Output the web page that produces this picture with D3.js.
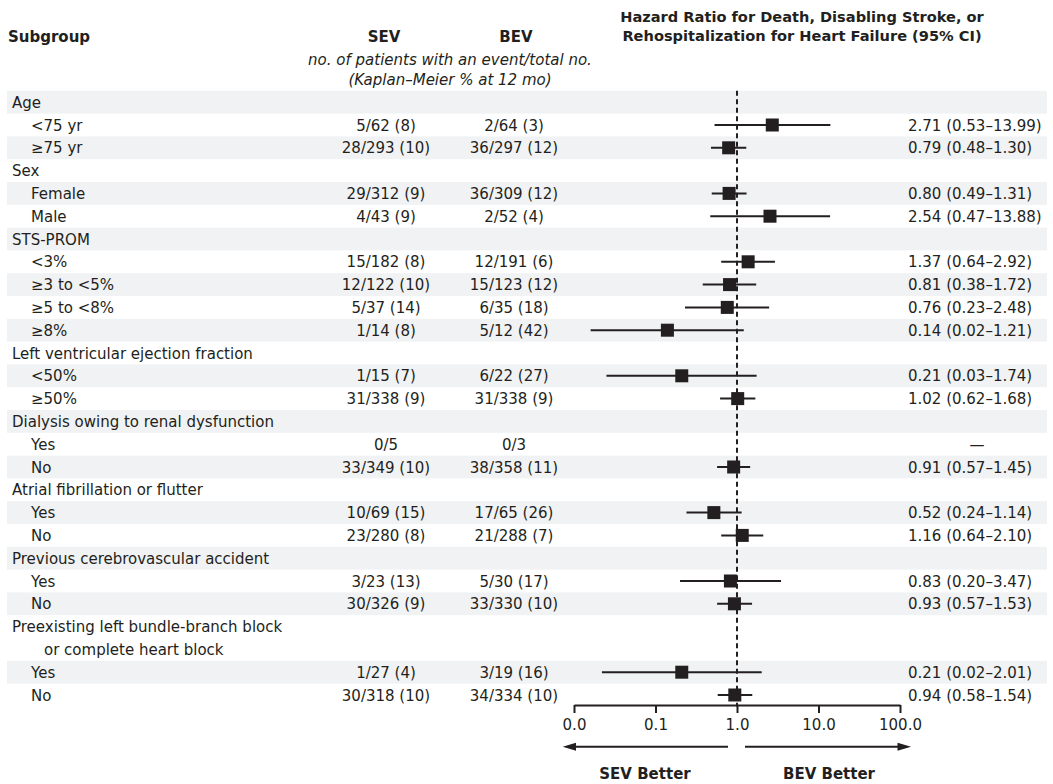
<!DOCTYPE html>
<html>
<head>
<meta charset="utf-8">
<script src="https://cdn.jsdelivr.net/npm/d3@7"></script>
<style>
  html, body { margin: 0; padding: 0; background: #ffffff; }
  svg { display: block; font-family: "DejaVu Sans", sans-serif; }
</style>
</head>
<body>
<svg id="chart" width="1053" height="784"></svg>
<script>
// ---------------- data ----------------
const labels = [
  "Age", "<75 yr", "≥75 yr",
  "Sex", "Female", "Male",
  "STS-PROM", "<3%", "≥3 to <5%", "≥5 to <8%", "≥8%",
  "Left ventricular ejection fraction", "<50%", "≥50%",
  "Dialysis owing to renal dysfunction", "Yes", "No",
  "Atrial fibrillation or flutter", "Yes", "No",
  "Previous cerebrovascular accident", "Yes", "No",
  "Preexisting left bundle-branch block|or complete heart block", "Yes", "No"
];
const levels = [0,1,1, 0,1,1, 0,1,1,1,1, 0,1,1, 0,1,1, 0,1,1, 0,1,1, 0,1,1];
const sevText = [
  "", "5/62 (8)", "28/293 (10)",
  "", "29/312 (9)", "4/43 (9)",
  "", "15/182 (8)", "12/122 (10)", "5/37 (14)", "1/14 (8)",
  "", "1/15 (7)", "31/338 (9)",
  "", "0/5", "33/349 (10)",
  "", "10/69 (15)", "23/280 (8)",
  "", "3/23 (13)", "30/326 (9)",
  "", "1/27 (4)", "30/318 (10)"
];
const bevText = [
  "", "2/64 (3)", "36/297 (12)",
  "", "36/309 (12)", "2/52 (4)",
  "", "12/191 (6)", "15/123 (12)", "6/35 (18)", "5/12 (42)",
  "", "6/22 (27)", "31/338 (9)",
  "", "0/3", "38/358 (11)",
  "", "17/65 (26)", "21/288 (7)",
  "", "5/30 (17)", "33/330 (10)",
  "", "3/19 (16)", "34/334 (10)"
];
const hr = [
  null, 2.71, 0.79,
  null, 0.80, 2.54,
  null, 1.37, 0.81, 0.76, 0.14,
  null, 0.21, 1.02,
  null, null, 0.91,
  null, 0.52, 1.16,
  null, 0.83, 0.93,
  null, 0.21, 0.94
];
const ciLow = [
  null, 0.53, 0.48,
  null, 0.49, 0.47,
  null, 0.64, 0.38, 0.23, 0.016,
  null, 0.025, 0.62,
  null, null, 0.57,
  null, 0.24, 0.64,
  null, 0.20, 0.57,
  null, 0.022, 0.58
];
const ciHigh = [
  null, 13.99, 1.30,
  null, 1.31, 13.88,
  null, 2.92, 1.72, 2.48, 1.21,
  null, 1.74, 1.68,
  null, null, 1.45,
  null, 1.14, 2.10,
  null, 3.47, 1.53,
  null, 2.01, 1.54
];
const hrText = [
  "", "2.71 (0.53–13.99)", "0.79 (0.48–1.30)",
  "", "0.80 (0.49–1.31)", "2.54 (0.47–13.88)",
  "", "1.37 (0.64–2.92)", "0.81 (0.38–1.72)", "0.76 (0.23–2.48)", "0.14 (0.02–1.21)",
  "", "0.21 (0.03–1.74)", "1.02 (0.62–1.68)",
  "", "—", "0.91 (0.57–1.45)",
  "", "0.52 (0.24–1.14)", "1.16 (0.64–2.10)",
  "", "0.83 (0.20–3.47)", "0.93 (0.57–1.53)",
  "", "0.21 (0.02–2.01)", "0.94 (0.58–1.54)"
];
const tickValues = [0.01, 0.1, 1, 10, 100];
const tickLabels = ["0.0", "0.1", "1.0", "10.0", "100.0"];

// ---------------- layout ----------------
const ink = "#231f20";
const shade = "#f1f2f4";
const svg = d3.select("#chart");

const rows = labels.map((l, i) => ({
  i, lines: l.split("|"), level: levels[i],
  sev: sevText[i], bev: bevText[i], hr: hr[i], lo: ciLow[i], hi: ciHigh[i], txt: hrText[i]
}));
let acc = 0;
rows.forEach(r => { r.start = acc; acc += r.lines.length; });
const totalUnits = acc;

const y = d3.scaleLinear().domain([0, totalUnits]).range([90.8, 706.4]);
const unit = y(1) - y(0);
const x = d3.scaleLog().domain([0.01, 100]).range([574, 900]);

// background bands
svg.append("g").selectAll("rect")
  .data(rows.filter(r => r.i % 2 === 0))
  .join("rect")
  .attr("x", 7).attr("width", 1040)
  .attr("y", r => y(r.start))
  .attr("height", r => y(r.start + r.lines.length) - y(r.start))
  .attr("fill", shade);

// headers
const hdr = svg.append("g").attr("fill", ink).style("font-size", "15px");
hdr.append("text").attr("x", 8).attr("y", 42).attr("font-weight", "bold").text("Subgroup");
hdr.append("text").attr("x", 384).attr("y", 42).attr("text-anchor", "middle").attr("font-weight", "bold").text("SEV");
hdr.append("text").attr("x", 516).attr("y", 42).attr("text-anchor", "middle").attr("font-weight", "bold").text("BEV");
hdr.append("text").attr("x", 450).attr("y", 65).attr("text-anchor", "middle").attr("font-style", "italic")
  .text("no. of patients with an event/total no.");
hdr.append("text").attr("x", 450).attr("y", 85).attr("text-anchor", "middle").attr("font-style", "italic")
  .text("(Kaplan–Meier % at 12 mo)");
hdr.append("text").attr("x", 802).attr("y", 22).attr("text-anchor", "middle").attr("font-weight", "bold")
  .style("font-size", "14.6px").text("Hazard Ratio for Death, Disabling Stroke, or");
hdr.append("text").attr("x", 802).attr("y", 41).attr("text-anchor", "middle").attr("font-weight", "bold")
  .style("font-size", "14.6px").text("Rehospitalization for Heart Failure (95% CI)");

// row texts
const rowG = svg.append("g").attr("fill", ink).style("font-size", "15px");
rows.forEach(r => {
  r.lines.forEach((ln, k) => {
    rowG.append("text")
      .attr("x", r.level === 0 ? (k === 0 ? 12 : 44) : 31)
      .attr("y", y(r.start + k) + unit / 2 + 5.5)
      .text(ln);
  });
  const cy = y(r.start) + unit / 2 + 5.5;
  if (r.sev) rowG.append("text").attr("x", 386).attr("y", cy).attr("text-anchor", "middle").text(r.sev);
  if (r.bev) rowG.append("text").attr("x", 514).attr("y", cy).attr("text-anchor", "middle").text(r.bev);
  if (r.txt === "—") rowG.append("text").attr("x", 977).attr("y", cy).attr("text-anchor", "middle").text(r.txt);
  else if (r.txt) rowG.append("text").attr("x", 908).attr("y", cy).text(r.txt);
});

// reference dashed line at 1.0
svg.append("line")
  .attr("x1", x(1)).attr("x2", x(1))
  .attr("y1", y(0)).attr("y2", y(totalUnits))
  .attr("stroke", ink).attr("stroke-width", 2).attr("stroke-dasharray", "5,3.5");

// CIs and markers
const est = rows.filter(r => r.hr != null);
const mk = svg.append("g");
mk.selectAll("line.ci").data(est).join("line")
  .attr("class", "ci")
  .attr("x1", r => x(r.lo)).attr("x2", r => x(r.hi))
  .attr("y1", r => y(r.start) + unit / 2).attr("y2", r => y(r.start) + unit / 2)
  .attr("stroke", ink).attr("stroke-width", 2);
const sq = 13;
mk.selectAll("rect.pt").data(est).join("rect")
  .attr("class", "pt")
  .attr("x", r => x(r.hr) - sq / 2).attr("y", r => y(r.start) + unit / 2 - sq / 2)
  .attr("width", sq).attr("height", sq).attr("fill", ink);

// axis
const axis = d3.axisBottom(x).tickValues(tickValues)
  .tickFormat((d, i) => tickLabels[i]).tickSizeInner(8).tickSizeOuter(0).tickPadding(6);
const ax = svg.append("g").attr("transform", `translate(0,${y(totalUnits) - 1.4})`).call(axis);
ax.select(".domain").attr("stroke", ink).attr("stroke-width", 2);
ax.selectAll(".tick line").attr("stroke", ink).attr("stroke-width", 2);
ax.selectAll(".tick text").attr("fill", ink).style("font-size", "15px").style("font-family", "DejaVu Sans, sans-serif");

// direction arrows
const ay = 746.7;
const arr = svg.append("g").attr("fill", ink).attr("stroke", ink);
arr.append("line").attr("x1", 570).attr("x2", 728).attr("y1", ay).attr("y2", ay).attr("stroke-width", 2);
arr.append("path").attr("d", `M562.7,${ay} L576,${ay - 4} L576,${ay + 4} Z`).attr("stroke", "none");
arr.append("line").attr("x1", 745).attr("x2", 904).attr("y1", ay).attr("y2", ay).attr("stroke-width", 2);
arr.append("path").attr("d", `M911,${ay} L897.5,${ay - 4} L897.5,${ay + 4} Z`).attr("stroke", "none");

const bt = svg.append("g").attr("fill", ink).style("font-size", "15px").attr("font-weight", "bold");
bt.append("text").attr("x", 645).attr("y", 779).attr("text-anchor", "middle").text("SEV Better");
bt.append("text").attr("x", 829).attr("y", 779).attr("text-anchor", "middle").text("BEV Better");
</script>
</body>
</html>
